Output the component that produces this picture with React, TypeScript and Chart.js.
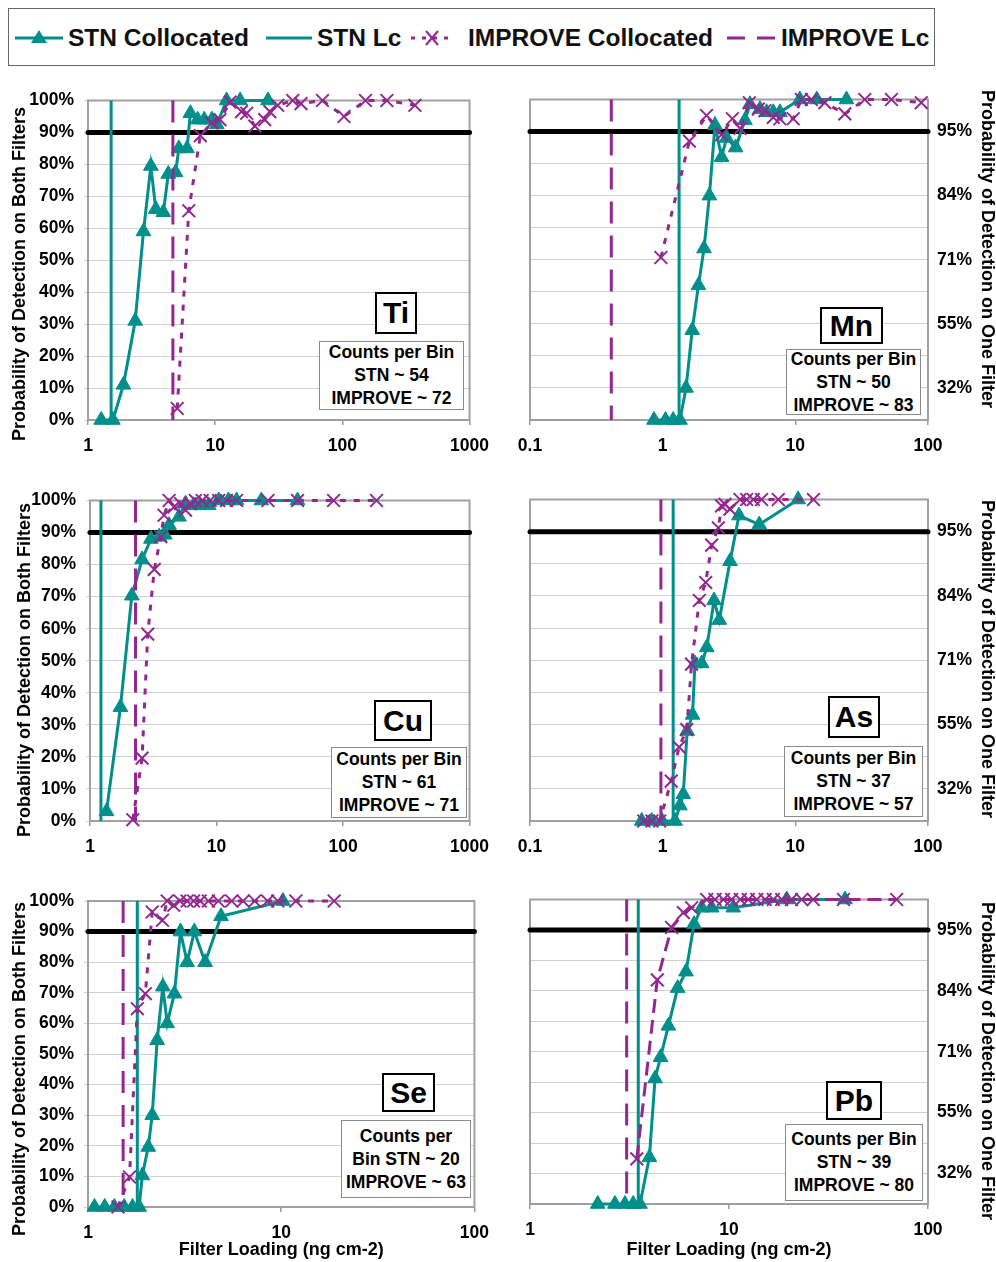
import React, { useEffect, useRef } from 'react';
import { Chart, registerables } from 'chart.js';

Chart.register(...registerables);

const TEAL = '#008f8a';
const PURPLE = '#93278f';
const FONT = "'Liberation Sans', Arial, Helvetica, sans-serif";

// ---------- data (filter loading, ng cm-2 ; probability %) ----------
const tiStnLoad = [1.27, 1.57, 1.9, 2.35, 2.73, 3.12, 3.41, 3.91, 4.28, 4.88, 5.18, 6.01, 6.38, 7.28, 8.2, 9.42, 10.3, 12.3, 15.7, 26];
const tiStnProb = [0, 0, 11, 31, 59, 79.5, 66, 65, 77, 77.5, 85, 85, 96, 94, 94, 94, 92.5, 100, 100, 100];
const tiImpLoad = [5.03, 6.2, 7.64, 9.42, 10.9, 13.1, 16.1, 17.7, 20.5, 24.5, 26.9, 31, 40.7, 47.3, 69.8, 103, 152, 224, 372];
const tiImpProb = [3.6, 65.5, 89, 93, 94, 99.5, 96.5, 96, 92, 94, 96.5, 98.5, 100, 99, 100, 95, 100, 100, 98.5];
const tiStnLc = 1.52;
const tiImpLc = 4.65;

const mnStnLoad = [0.86, 1.05, 1.2, 1.35, 1.5, 1.67, 1.86, 2.05, 2.25, 2.48, 2.78, 3.03, 3.55, 4.17, 4.55, 5.41, 6.07, 6.82, 7.65, 10.8, 14.5, 24.3];
const mnStnProb = [0, 0, 0, 0, 10, 28, 42, 53.5, 70, 92, 82, 88, 85, 93.5, 98.5, 97, 96, 96, 96, 100, 100, 100];
const mnImpLoad = [0.97, 1.59, 2.14, 2.78, 3.35, 3.83, 4.5, 5.26, 5.9, 6.82, 7.65, 9.64, 11.1, 13.2, 16.7, 23.6, 33.4, 53, 89];
const mnImpProb = [50.7, 87, 95, 89, 94, 91, 99, 97, 96.5, 94.4, 94, 94, 100, 100, 99, 95.5, 100, 100, 99];
const mnStnLc = 1.33;
const mnImpLc = 0.41;

const cuStnLoad = [1.35, 1.74, 2.14, 2.58, 3.03, 3.52, 3.9, 4.22, 5.05, 5.69, 6.61, 7.45, 8.66, 10.4, 12.4, 14.4, 22.6, 43.7];
const cuStnProb = [3, 35.5, 70.3, 81.6, 88, 88.7, 89.3, 92.3, 94.9, 99, 98.5, 98.5, 98.5, 100, 100, 100, 100, 100];
const cuImpLoad = [2.18, 2.58, 2.86, 3.22, 3.63, 3.85, 4.22, 4.62, 5.2, 5.69, 6.2, 6.8, 7.7, 8.9, 10.4, 12, 14.4, 25.5, 43.7, 84.3, 184];
const cuImpProb = [0.4, 19.6, 58.3, 78.5, 88.7, 95.4, 100, 98, 99, 97, 99, 100, 100, 100, 100, 100, 100, 100, 100, 100, 100];
const cuStnLc = 1.22;
const cuImpLc = 2.29;

const asStnLoad = [0.695, 0.826, 0.99, 1.24, 1.35, 1.43, 1.53, 1.68, 1.75, 1.97, 2.15, 2.44, 2.67, 3.22, 3.76, 5.35, 10.5];
const asStnProb = [0, 0, 0, 0, 4.8, 8.3, 28, 33, 49, 49, 54, 68.6, 62.5, 80.8, 95, 92.2, 100];
const asImpLoad = [0.72, 0.83, 0.95, 1.16, 1.33, 1.52, 1.65, 1.89, 2.11, 2.34, 2.63, 2.78, 2.95, 3.22, 3.83, 4.3, 4.82, 5.57, 7.44, 13.7];
const asImpProb = [0, 0, 0, 12.4, 23, 28.4, 48.8, 68.6, 74.2, 85.8, 91.2, 98, 98.5, 97, 100, 100, 100, 100, 100, 100];
const asStnLc = 1.2;
const asImpLc = 0.97;

const seStnLoad = [1.08, 1.22, 1.37, 1.54, 1.7, 1.84, 1.91, 2.05, 2.15, 2.28, 2.44, 2.57, 2.8, 3.01, 3.26, 3.55, 4.04, 4.88, 10.2];
const seStnProb = [0, 0, 0, 0, 0, 0, 10.3, 19.6, 30, 54.5, 72, 60, 69.7, 90, 80, 90, 80, 95, 100];
const seImpLoad = [1.43, 1.64, 1.8, 1.98, 2.15, 2.43, 2.57, 2.78, 2.99, 3.26, 3.52, 3.81, 4.2, 4.73, 5.54, 6.35, 7.29, 8.5, 9.6, 11.9, 18.8];
const seImpProb = [0, 9.8, 64.8, 69.7, 96.4, 93.7, 100, 98.6, 100, 100, 100, 100, 100, 100, 100, 100, 100, 100, 100, 100, 100];
const seStnLc = 1.8;
const seImpLc = 1.52;

const pbStnLoad = [2.19, 2.67, 3.0, 3.3, 3.57, 3.98, 4.25, 4.53, 4.96, 5.52, 6.08, 6.67, 7.29, 8.18, 10.5, 19.5, 38.3];
const pbStnProb = [0, 0, 0, 0, 0, 15.3, 41.2, 48.2, 58.5, 70.9, 76.3, 91.9, 97.3, 97.3, 97.3, 100, 100];
const pbImpLoad = [3.44, 4.36, 5.15, 5.9, 6.49, 7.72, 8.51, 9.37, 10.3, 11.4, 12.5, 13.8, 15.2, 16.7, 18.4, 20.6, 23.2, 26.5, 37.6, 69.6];
const pbImpProb = [14.8, 73.6, 90.8, 95.7, 97.3, 100, 100, 100, 100, 100, 100, 100, 100, 100, 100, 100, 100, 100, 100, 100];
const pbStnLc = 3.5;
const pbImpLc = 3.06;

// ---------- ticks / labels ----------
const threshold = 90;
const yGridValues = [0, 10, 20, 30, 40, 50, 60, 70, 80, 90, 100];
const leftTickLabels = ['0%', '10%', '20%', '30%', '40%', '50%', '60%', '70%', '80%', '90%', '100%'];
const rightTickValues = [10, 30, 50, 70, 90];
const rightTickLabels = ['32%', '55%', '71%', '84%', '95%'];
const xTicks1to1000 = [1, 10, 100, 1000];
const xLabels1to1000 = ['1', '10', '100', '1000'];
const xTicks01to100 = [0.1, 1, 10, 100];
const xLabels01to100 = ['0.1', '1', '10', '100'];
const xTicks1to100 = [1, 10, 100];
const xLabels1to100 = ['1', '10', '100'];

const legendLabels = ['STN Collocated', 'STN Lc', 'IMPROVE Collocated', 'IMPROVE Lc'];
const leftTitle = 'Probability of Detection on Both Filters';
const rightTitle = 'Probability of Detection on One Filter';
const xTitle = 'Filter Loading (ng cm-2)';

type Spec = {
  name: string;
  counts: string[];
  xMin: number; xMax: number; xTicks: number[]; xLabels: string[];
  stnX: number[]; stnY: number[]; impX: number[]; impY: number[];
  stnLc: number; impLc: number;
  side: 'left' | 'right';
  showXTitle: boolean;
  box: number[]; plot: number[]; elBox: number[]; cntBox: number[];
  titlePos: number[]; impDash: number[];
};

const specs: Spec[] = [
  { name: 'Ti', counts: ['Counts per Bin', 'STN ~ 54', 'IMPROVE ~ 72'], xMin: 1, xMax: 1000, xTicks: xTicks1to1000, xLabels: xLabels1to1000,
    stnX: tiStnLoad, stnY: tiStnProb, impX: tiImpLoad, impY: tiImpProb, stnLc: tiStnLc, impLc: tiImpLc, side: 'left', showXTitle: false,
    box: [0, 80, 500, 380], plot: [88, 95, 474, 420], elBox: [375, 292, 42, 42], cntBox: [319, 341, 145, 69], titlePos: [20, 274], impDash: [6, 8] },
  { name: 'Mn', counts: ['Counts per Bin', 'STN ~ 50', 'IMPROVE ~ 83'], xMin: 0.1, xMax: 100, xTicks: xTicks01to100, xLabels: xLabels01to100,
    stnX: mnStnLoad, stnY: mnStnProb, impX: mnImpLoad, impY: mnImpProb, stnLc: mnStnLc, impLc: mnImpLc, side: 'right', showXTitle: false,
    box: [500, 80, 496, 380], plot: [530, 90, 928, 420], elBox: [820, 307, 63, 37], cntBox: [786, 349, 135, 66], titlePos: [987, 249], impDash: [6, 8] },
  { name: 'Cu', counts: ['Counts per Bin', 'STN ~ 61', 'IMPROVE ~ 71'], xMin: 1, xMax: 1000, xTicks: xTicks1to1000, xLabels: xLabels1to1000,
    stnX: cuStnLoad, stnY: cuStnProb, impX: cuImpLoad, impY: cuImpProb, stnLc: cuStnLc, impLc: cuImpLc, side: 'left', showXTitle: false,
    box: [0, 480, 500, 380], plot: [90, 495, 474, 821], elBox: [374, 700, 58, 41], cntBox: [331, 747, 136, 71], titlePos: [25, 670], impDash: [6, 8] },
  { name: 'As', counts: ['Counts per Bin', 'STN ~ 37', 'IMPROVE ~ 57'], xMin: 0.1, xMax: 100, xTicks: xTicks01to100, xLabels: xLabels01to100,
    stnX: asStnLoad, stnY: asStnProb, impX: asImpLoad, impY: asImpProb, stnLc: asStnLc, impLc: asImpLc, side: 'right', showXTitle: false,
    box: [500, 480, 496, 380], plot: [530, 492, 928, 821], elBox: [828, 696, 52, 42], cntBox: [784, 746, 139, 71], titlePos: [987, 659], impDash: [6, 8] },
  { name: 'Se', counts: ['Counts per', 'Bin STN ~ 20', 'IMPROVE ~ 63'], xMin: 1, xMax: 100, xTicks: xTicks1to100, xLabels: xLabels1to100,
    stnX: seStnLoad, stnY: seStnProb, impX: seImpLoad, impY: seImpProb, stnLc: seStnLc, impLc: seImpLc, side: 'left', showXTitle: true,
    box: [0, 880, 500, 382], plot: [88, 901, 478, 1207], elBox: [382, 1073, 53, 39], cntBox: [341, 1120, 130, 78], titlePos: [20, 1069], impDash: [6, 8] },
  { name: 'Pb', counts: ['Counts per Bin', 'STN ~ 39', 'IMPROVE ~ 80'], xMin: 1, xMax: 100, xTicks: xTicks1to100, xLabels: xLabels1to100,
    stnX: pbStnLoad, stnY: pbStnProb, impX: pbImpLoad, impY: pbImpProb, stnLc: pbStnLc, impLc: pbImpLc, side: 'right', showXTitle: true,
    box: [500, 880, 496, 382], plot: [530, 895, 928, 1204], elBox: [826, 1081, 56, 39], cntBox: [785, 1124, 138, 77], titlePos: [987, 1061], impDash: [14, 7] },
];

const framePlugin = {
  id: 'frame',
  beforeDatasetsDraw(chart: any) {
    const { ctx, chartArea } = chart;
    const { left, top, right, bottom } = chartArea;
    ctx.save();
    ctx.strokeStyle = '#a0a0a0';
    ctx.lineWidth = 2;
    ctx.strokeRect(left, top, right - left, bottom - top);
    ctx.restore();
  },
};

function Panel({ spec }: { spec: Spec }) {
  const ref = useRef<HTMLCanvasElement>(null);
  const [bl, bt, bw, bh] = spec.box;
  useEffect(() => {
    const s = spec;
    const [pl, pt, pr, pb] = s.plot;
    const isLeft = s.side === 'left';
    const yAxisW = isLeft ? pl - bl : bl + bw - pr;
    const xAxisH = bt + bh - pb;
    const pts = (xs: number[], ys: number[]) => xs.map((x, i) => ({ x, y: ys[i] }));
    const tickFont = { family: FONT, size: 17.5, weight: 'bold' as const };
    const titleFont = { family: FONT, size: 18, weight: 'bold' as const };
    const yTitlePlugin = {
      id: 'ytitle',
      afterDraw(chart: any) {
        const ctx = chart.ctx;
        ctx.save();
        ctx.translate(s.titlePos[0] - bl, s.titlePos[1] - bt);
        ctx.rotate(isLeft ? -Math.PI / 2 : Math.PI / 2);
        ctx.font = `bold 18px ${FONT}`;
        ctx.fillStyle = '#000';
        ctx.textAlign = 'center';
        ctx.textBaseline = 'middle';
        ctx.fillText(isLeft ? leftTitle : rightTitle, 0, 0);
        ctx.restore();
      },
    };
    const chart = new Chart(ref.current!, {
      type: 'scatter',
      data: {
        datasets: [
          { label: legendLabels[2], data: pts(s.impX, s.impY), showLine: true, borderColor: PURPLE, backgroundColor: PURPLE,
            borderWidth: 3, borderDash: s.impDash, pointStyle: 'crossRot', pointRadius: 9, pointHoverRadius: 9,
            pointBorderWidth: 2, pointBorderColor: PURPLE, order: 0, clip: false } as any,
          { label: legendLabels[3], data: [{ x: s.impLc, y: 100 }, { x: s.impLc, y: 0 }], showLine: true, borderColor: PURPLE,
            borderWidth: 3, borderDash: [22, 12], pointRadius: 0, order: 1, clip: false } as any,
          { label: legendLabels[0], data: pts(s.stnX, s.stnY), showLine: true, borderColor: TEAL, backgroundColor: TEAL,
            borderWidth: 3, pointStyle: 'triangle', pointRadius: 8.5, pointHoverRadius: 8.5, pointBorderWidth: 1,
            pointBorderColor: TEAL, pointBackgroundColor: TEAL, order: 2, clip: false } as any,
          { label: legendLabels[1], data: [{ x: s.stnLc, y: 0 }, { x: s.stnLc, y: 100 }], showLine: true, borderColor: TEAL,
            borderWidth: 3, pointRadius: 0, order: 3, clip: false } as any,
          { label: 'threshold', data: [{ x: s.xMin, y: threshold }, { x: s.xMax, y: threshold }], showLine: true,
            borderColor: '#000', borderWidth: 5, borderCapStyle: 'round', pointRadius: 0, order: 4, clip: false } as any,
        ],
      },
      options: {
        responsive: false,
        animation: false,
        devicePixelRatio: 1,
        events: [],
        layout: {
          padding: {
            left: isLeft ? 0 : pl - bl,
            right: isLeft ? bl + bw - pr : 0,
            top: pt - bt,
            bottom: 0,
          },
        },
        plugins: { legend: { display: false }, tooltip: { enabled: false } },
        scales: {
          x: {
            type: 'logarithmic',
            position: 'bottom',
            min: s.xMin,
            max: s.xMax,
            afterBuildTicks: (sc: any) => { sc.ticks = s.xTicks.map((v) => ({ value: v })); },
            afterFit: (sc: any) => { sc.height = xAxisH; },
            ticks: {
              autoSkip: false, maxRotation: 0, minRotation: 0, padding: 11, color: '#000', font: tickFont,
              callback: (_v: any, i: number) => s.xLabels[i],
            },
            grid: { drawOnChartArea: false, drawTicks: true, tickLength: 5, color: '#999', lineWidth: 1.5 },
            border: { display: false },
            title: { display: s.showXTitle, text: xTitle, color: '#000', font: titleFont, padding: { top: 0, bottom: 1 } },
          } as any,
          y: {
            type: 'linear',
            position: isLeft ? 'left' : 'right',
            min: 0,
            max: 100,
            afterBuildTicks: (sc: any) => { sc.ticks = yGridValues.map((v) => ({ value: v })); },
            afterFit: (sc: any) => { sc.width = yAxisW; },
            ticks: {
              autoSkip: false, padding: isLeft ? 10 : 9, color: '#000', font: tickFont,
              callback: (v: any, i: number) => {
                if (isLeft) return leftTickLabels[i];
                const k = rightTickValues.indexOf(Number(v));
                return k >= 0 ? rightTickLabels[k] : '';
              },
            },
            grid: { color: '#d0d0d0', lineWidth: 1, drawTicks: isLeft, tickLength: 4 },
            border: { display: false },
            title: { display: false },
          } as any,
        },
      },
      plugins: [framePlugin, yTitlePlugin],
    });
    return () => chart.destroy();
  }, [spec]);

  const [el, et, ew, eh] = spec.elBox;
  const [cl, ct, cw, ch] = spec.cntBox;
  return (
    <>
      <canvas ref={ref} width={bw} height={bh} style={{ position: 'absolute', left: bl, top: bt, width: bw, height: bh }} />
      <div style={{
        position: 'absolute', left: el, top: et, width: ew, height: eh, boxSizing: 'border-box',
        border: '2px solid #000', background: '#fff', display: 'flex', alignItems: 'center', justifyContent: 'center',
        font: `bold 30px ${FONT}`, color: '#000',
      }}>{spec.name}</div>
      <div style={{
        position: 'absolute', left: cl, top: ct, width: cw, height: ch, boxSizing: 'border-box',
        border: '1.5px solid #8a8a8a', background: '#fff', display: 'flex', flexDirection: 'column',
        alignItems: 'center', justifyContent: 'center', font: `bold 17.5px ${FONT}`, lineHeight: '23px', color: '#000',
        whiteSpace: 'nowrap',
      }}>
        {spec.counts.map((t, i) => <div key={i}>{t}</div>)}
      </div>
    </>
  );
}

function Legend() {
  const textStyle = (left: number): React.CSSProperties => ({
    position: 'absolute', left, top: 15, lineHeight: '30px', font: `bold 24.5px ${FONT}`, color: '#111', whiteSpace: 'nowrap',
  });
  return (
    <div style={{ position: 'absolute', left: 8, top: 8, width: 927, height: 58, boxSizing: 'border-box', border: '1.5px solid #666', background: '#fff' }}>
      <svg style={{ position: 'absolute', left: 0, top: 0 }} width={925} height={56}>
        <line x1={6} y1={29} x2={54} y2={29} stroke={TEAL} strokeWidth={3} />
        <polygon points="30,21 38,34 22,34" fill={TEAL} />
        <line x1={257} y1={29} x2={303} y2={29} stroke={TEAL} strokeWidth={3} />
        <line x1={402} y1={29} x2={444} y2={29} stroke={PURPLE} strokeWidth={3} strokeDasharray="4 7" />
        <line x1={417} y1={22} x2={429} y2={36} stroke={PURPLE} strokeWidth={2} />
        <line x1={429} y1={22} x2={417} y2={36} stroke={PURPLE} strokeWidth={2} />
        <line x1={718} y1={29} x2={768} y2={29} stroke={PURPLE} strokeWidth={3} strokeDasharray="18 12" />
      </svg>
      <span style={textStyle(59)}>{legendLabels[0]}</span>
      <span style={textStyle(308)}>{legendLabels[1]}</span>
      <span style={textStyle(459)}>{legendLabels[2]}</span>
      <span style={textStyle(772)}>{legendLabels[3]}</span>
    </div>
  );
}

export default function App() {
  return (
    <div style={{ position: 'absolute', left: 0, top: 0, width: 996, height: 1262, background: '#fff', overflow: 'hidden' }}>
      <Legend />
      {specs.map((s) => <Panel key={s.name} spec={s} />)}
    </div>
  );
}
